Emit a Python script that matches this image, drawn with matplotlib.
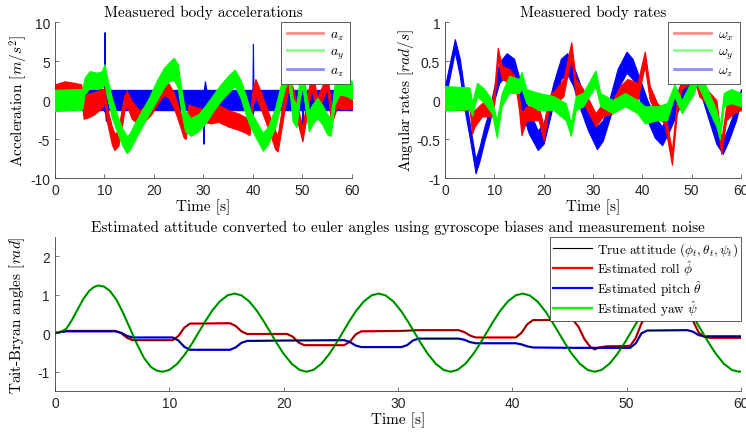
import matplotlib
matplotlib.use('Agg')
import matplotlib.pyplot as plt
from matplotlib.lines import Line2D

plt.rcParams['font.family'] = ['Liberation Sans', 'DejaVu Sans']
plt.rcParams['mathtext.fontset'] = 'cm'
plt.rcParams['axes.unicode_minus'] = False

# ---- measured body accelerations (noise bands: lower / upper edge) ----
ax_t  = [0, 2, 4, 5.3, 5.8, 6.5, 8, 9.5, 10, 10.5, 11.5, 12, 12.8, 13.5, 14, 14.5, 15.5, 17, 18, 19.5,
         21, 22, 23, 24, 25, 26, 26.4, 27, 28.5, 30, 31.5, 33, 35, 37, 38.5, 39.3, 40, 40.5, 41.5, 43,
         44.5, 45, 46, 47, 48, 49, 50, 51, 51.8, 52.5, 53, 54.2, 55, 55.7, 56, 57, 58.5, 60]
ax_lo = [0.2, 0.4, 0.3, 0.2, -2.4, -2.3, -1.8, -1.0, -0.2, -2.8, -5.7, -6.4, -5.9, -3.5, -1.4, -0.6, -2.4, -3.2, -2.8, -1.8,
         -0.2, 0.6, 0.3, -1.0, -2.8, -4.8, -5.0, -2.5, -2.4, -2.8, -3.0, -2.8, -3.4, -3.8, -4.2, -4.5, -0.6, 0.6, -1.0, -3.5,
         -6.3, -6.6, -2.8, 1.2, -0.2, -2.8, -5.3, -1.5, 1.5, -0.2, -1.8, 0.3, 1.5, -2.3, -2.7, -1.0, -1.2, -1.1]
ax_hi = [2.0, 2.4, 2.2, 2.0, 0.0, 0.8, 1.0, 1.4, 1.5, -0.9, -3.4, -4.3, -4.0, -1.0, 0.5, 1.2, -0.1, -1.3, -0.9, -0.1,
         1.6, 2.5, 2.1, 0.9, -1.0, -2.7, -3.2, -0.6, -0.9, -1.2, -0.9, -0.6, -1.3, -1.7, -2.2, -2.5, 1.6, 2.7, 1.2, -1.4,
         -4.0, -4.5, -0.5, 3.0, 1.7, -0.9, -3.4, 0.4, 3.4, 2.0, 0.3, 2.1, 3.4, 0.0, -0.9, 0.8, 0.7, 0.8]

ay_t  = [0, 5, 5.5, 6, 7, 8.5, 9.5, 10, 10.7, 11.5, 12.5, 13.5, 14.5, 15, 16, 17.5, 19, 20.5, 22, 23,
         24, 24.8, 25.5, 26.3, 27.5, 29, 30.5, 32, 33.5, 35, 36.3, 37.5, 38.5, 39.5, 41, 42, 43, 44.5, 45.5, 46.5,
         47.2, 48, 48.8, 49.5, 50, 50.6, 51.3, 52, 53, 54, 55, 55.7, 56.5, 57.5, 59, 60]
ay_lo = [-1.4, -1.3, -1.2, 0.7, 1.6, 1.4, 1.6, 2.0, -0.1, -2.3, -4.0, -5.7, -6.8, -6.5, -5.3, -3.5, -1.8, -0.1, 1.6, 2.4,
         2.6, 1.6, -1.4, -4.0, -4.6, -4.0, -2.9, -1.4, -0.1, 0.9, 1.8, 0.3, -1.8, -3.5, -5.3, -6.5, -5.7, -3.5, -1.0, 1.6,
         2.5, -2.7, -3.5, 0.3, 1.6, -1.0, -4.0, -3.1, -2.3, -3.1, -4.4, -4.6, -0.6, 0.7, 0.5, 0.1]
ay_hi = [1.3, 1.4, 1.4, 2.9, 3.7, 3.5, 3.7, 4.6, 2.4, 0.3, -1.8, -3.5, -4.6, -4.4, -3.1, -1.4, 0.3, 2.4, 4.1, 4.8,
         5.4, 4.6, 1.6, -1.4, -2.3, -1.8, -0.6, 0.7, 2.0, 3.1, 3.9, 2.6, 0.7, -1.4, -3.1, -4.2, -3.5, -1.0, 1.6, 3.7,
         5.0, 0.3, -0.6, 2.9, 4.1, 1.6, -1.4, -0.6, 0.3, -0.6, -1.8, -2.3, 2.0, 3.1, 2.9, 2.4]

az_t  = [0, 5.5, 9.9, 10.0, 10.1, 10.3, 10.6, 29.9, 30.0, 30.1, 30.3, 30.6, 39.9, 40.0, 40.1, 49.9, 50.0, 50.1, 60]
az_lo = [-0.5, -1.3, -1.3, -1.5, -1.4, -2.7, -1.3, -1.3, -5.6, -1.4, -1.3, -1.3, -1.3, -1.8, -1.3, -1.3, -5.0, -1.3, -1.3]
az_hi = [1.0, 1.3, 1.4, 8.7, 1.4, 1.3, 1.3, 1.3, 1.3, 1.4, 2.4, 1.3, 1.3, 7.2, 1.3, 1.3, 1.3, 1.3, 1.3]

# ---- measured body rates ----
wx_t  = [0, 5, 5.5, 6, 7.5, 9.5, 10, 10.7, 11.5, 13, 14.5, 15, 15.5, 16.5, 19, 20, 21, 22.5, 24, 25.6,
         26.5, 28, 29.5, 30.5, 32, 34, 35.5, 37, 39, 40.5, 41.5, 43, 44.5, 46, 47, 48, 49, 50.5, 51.5, 53,
         55, 56, 57, 58.5, 60]
wx_lo = [-0.13, -0.13, -0.43, -0.34, -0.21, -0.21, -0.04, 0.53, 0.27, 0.22, 0.09, -0.13, -0.45, -0.26, -0.26, -0.52, -0.13, -0.04, 0.05, 0.57,
         0.05, -0.04, -0.21, -0.34, -0.21, -0.17, 0.0, 0.05, 0.0, 0.44, 0.0, -0.21, -0.3, -0.83, -0.17, 0.14, 0.18, 0.3, 0.05, -0.04,
         -0.21, -0.69, -0.26, -0.17, -0.13]
wx_hi = [0.09, 0.05, -0.1, -0.13, -0.04, 0.0, 0.14, 0.67, 0.44, 0.4, 0.27, 0.05, -0.17, -0.08, -0.08, -0.34, 0.05, 0.14, 0.27, 0.74,
         0.27, 0.14, -0.04, -0.17, -0.04, 0.0, 0.18, 0.27, 0.22, 0.62, 0.18, -0.04, -0.13, -0.65, 0.0, 0.31, 0.4, 0.5, 0.22, 0.14,
         0.0, -0.52, -0.08, 0.0, 0.05]

wy_t  = [0, 5, 5.5, 6.5, 8, 9.5, 10.5, 11.5, 13, 15, 15.5, 16.5, 19, 22, 24.5, 25.5, 26.5, 28, 30.5, 31.5,
         34, 36.5, 39, 40.5, 43, 45, 46.5, 48, 50.5, 51, 52, 53.5, 55, 55.7, 56.5, 58, 60]
wy_lo = [-0.13, -0.12, -0.2, 0.05, -0.04, -0.17, -0.48, -0.08, 0.09, 0.09, 0.15, -0.04, -0.13, -0.13, -0.26, -0.46, -0.13, -0.08, 0.18, -0.08,
         -0.17, -0.08, -0.17, -0.3, -0.26, -0.26, 0.05, -0.17, 0.09, 0.22, 0.09, -0.13, -0.34, -0.5, -0.08, -0.04, -0.08]
wy_hi = [0.18, 0.16, -0.03, 0.22, 0.14, 0.0, -0.26, 0.09, 0.31, 0.27, 0.36, 0.14, 0.09, 0.05, -0.04, -0.3, 0.05, 0.09, 0.38, 0.09,
         0.0, 0.09, 0.0, -0.08, -0.08, -0.04, 0.2, 0.0, 0.31, 0.48, 0.31, 0.09, -0.13, -0.34, 0.09, 0.14, 0.09]

wz_t  = [0, 1, 2, 3, 4, 5, 6.2, 7, 8, 9, 10, 11, 12.5, 14, 15.5, 17, 18.8, 20, 21, 22,
         23.5, 24.8, 26, 27.5, 29, 30.8, 32, 33.5, 35, 36.8, 38, 39.5, 41, 42.5, 44, 45.5, 47, 48.5, 50, 51,
         52, 53.5, 55, 56.3, 57.5, 59, 60]
wz_lo = [0.0, 0.31, 0.62, 0.31, -0.13, -0.48, -0.94, -0.78, -0.52, -0.3, 0.0, 0.22, 0.32, 0.22, -0.13, -0.43, -0.64, -0.56, -0.3, -0.04,
         0.27, 0.33, 0.18, -0.13, -0.39, -0.63, -0.52, -0.21, 0.14, 0.35, 0.27, 0.0, -0.26, -0.48, -0.58, -0.39, -0.17, 0.05, 0.22, 0.16,
         0.05, -0.26, -0.56, -0.69, -0.52, -0.26, 0.0]
wz_hi = [0.18, 0.48, 0.78, 0.53, 0.09, -0.3, -0.76, -0.6, -0.34, -0.13, 0.18, 0.48, 0.6, 0.53, 0.18, -0.13, -0.39, -0.3, -0.04, 0.22,
         0.53, 0.6, 0.44, 0.18, -0.13, -0.34, -0.26, 0.05, 0.4, 0.62, 0.53, 0.27, 0.0, -0.21, -0.34, -0.13, 0.09, 0.31, 0.44, 0.35,
         0.31, 0.0, -0.3, -0.52, -0.34, -0.08, 0.14]

# ---- estimated attitude (euler angles) ----
roll_t = [0, 0.5, 1, 5.3, 5.8, 6.3, 6.8, 10.3, 10.8, 11.3, 11.8, 15.3, 15.8, 16.3, 16.8, 20.3, 20.8, 21.3, 21.8, 25.3,
          25.8, 26.3, 26.8, 30.3, 30.8, 31.3, 31.8, 35.3, 35.8, 36.3, 36.8, 40.3, 40.8, 41.3, 41.8, 45.3, 45.8, 46.3, 46.8, 47.2,
          47.6, 48.2, 50.3, 50.8, 51.3, 51.8, 52.2, 52.7, 55.3, 55.8, 56.3, 56.8, 57.3, 60]
roll   = [0, 0.04, 0.06, 0.06, 0.0, -0.12, -0.18, -0.18, -0.07, 0.14, 0.25, 0.26, 0.19, 0.05, -0.02, -0.02, -0.09, -0.24, -0.31, -0.31,
          -0.22, -0.03, 0.05, 0.06, 0.065, 0.075, 0.08, 0.08, 0.03, -0.06, -0.11, -0.11, 0.01, 0.23, 0.34, 0.35, 0.16, -0.15, -0.35, -0.42,
          -0.37, -0.34, -0.33, -0.12, 0.26, 0.47, 0.5, 0.47, 0.46, 0.32, 0.02, -0.1, -0.12, -0.12]

pitch_t = [0, 0.5, 1, 5.3, 5.8, 6.3, 6.8, 10.3, 10.8, 11.3, 11.8, 15.3, 15.8, 16.3, 16.8, 20.3, 25.3, 25.8, 26.3, 26.8,
           30.3, 30.8, 31.3, 31.8, 35.3, 35.8, 36.3, 36.8, 40.3, 40.8, 41.3, 41.8, 45.3, 50.3, 50.8, 51.3, 51.8, 55.3, 55.8, 56.3,
           56.8, 60]
pitch   = [0, 0.03, 0.05, 0.05, 0.01, -0.07, -0.11, -0.11, -0.19, -0.35, -0.43, -0.43, -0.37, -0.25, -0.2, -0.19, -0.18, -0.23, -0.32, -0.36,
           -0.36, -0.31, -0.19, -0.14, -0.14, -0.17, -0.23, -0.26, -0.26, -0.29, -0.34, -0.37, -0.38, -0.38, -0.26, 0.0, 0.07, 0.08, 0.04, -0.05,
           -0.08, -0.08]

yaw_t = [0, 0.5, 1, 1.5, 2, 2.5, 3, 3.4, 3.8, 4.3, 4.8, 5.4, 6, 6.6, 7.2, 7.8, 8.4, 8.9,
         9.4, 10.0, 10.7, 11.4, 12.0, 12.55, 13.1, 13.7, 14.4, 15.1,
         15.7, 16.3, 17.0, 17.7, 18.3, 18.85, 19.4, 20.0, 20.7, 21.4,
         22.0, 22.6, 23.3, 24.0, 24.6, 25.15, 25.7, 26.3, 27.0, 27.7,
         28.3, 28.9, 29.6, 30.3, 30.9, 31.45, 32.0, 32.6, 33.3, 34.0,
         34.6, 35.2, 35.9, 36.6, 37.2, 37.75, 38.3, 38.9, 39.6, 40.3,
         40.9, 41.5, 42.2, 42.9, 43.5, 44.05, 44.6, 45.2, 45.9, 46.6,
         47.2, 47.8, 48.5, 49.2, 49.8, 50.35, 50.9, 51.5, 52.2, 52.9,
         53.5, 54.1, 54.8, 55.5, 56.1, 56.65, 57.2, 57.8, 58.5, 59.2, 59.8, 60]
yaw = [0, 0.03, 0.12, 0.35, 0.63, 0.9, 1.1, 1.2, 1.24, 1.21, 1.1, 0.86, 0.5, 0.1, -0.3, -0.65, -0.88, -0.97,
       -1.0, -0.954, -0.793, -0.534, -0.26, 0.015, 0.29, 0.565, 0.824, 0.985,
       1.03, 0.985, 0.824, 0.565, 0.29, 0.015, -0.26, -0.534, -0.793, -0.954,
       -1.0, -0.954, -0.793, -0.534, -0.26, 0.015, 0.29, 0.565, 0.824, 0.985,
       1.03, 0.985, 0.824, 0.565, 0.29, 0.015, -0.26, -0.534, -0.793, -0.954,
       -1.0, -0.954, -0.793, -0.534, -0.26, 0.015, 0.29, 0.565, 0.824, 0.985,
       1.03, 0.985, 0.824, 0.565, 0.29, 0.015, -0.26, -0.534, -0.793, -0.954,
       -1.0, -0.954, -0.793, -0.534, -0.26, 0.015, 0.29, 0.565, 0.824, 0.985,
       1.03, 0.985, 0.824, 0.565, 0.29, 0.015, -0.26, -0.534, -0.793, -0.954, -1.0, -0.995]

RED, GREEN, BLUE = (1, 0, 0), (0, 1, 0), (0, 0, 1)
SERIF = 'cmr10'


def style(ax):
    for s in ['top', 'right']:
        ax.spines[s].set_visible(False)
    for s in ['left', 'bottom']:
        ax.spines[s].set_color('0.25')
        ax.spines[s].set_linewidth(0.6)
    ax.tick_params(direction='in', length=3, width=0.5, color='0.25',
                   labelcolor='0.15', labelsize=10)
    ax.set_xlim(0, 60)
    ax.set_xticks(range(0, 61, 10))


def band(ax, t, lo, hi, col, z):
    ax.fill_between(t, lo, hi, facecolor=col, edgecolor=col, lw=0.8, zorder=z)


def band_legend(ax, labels):
    cols = [(1, 0.55, 0.55), (0.55, 1, 0.55), (0.55, 0.55, 1)]
    hs = [Line2D([], [], color=c, lw=2) for c in cols]
    leg = ax.legend(hs, labels, loc='upper right', bbox_to_anchor=(0.995, 1.0),
                    borderaxespad=0, fancybox=False, framealpha=1,
                    edgecolor='0.25', handlelength=2.6, handletextpad=0.5,
                    labelspacing=0.2, borderpad=0.45, prop={'family': SERIF, 'size': 10})
    leg.get_frame().set_linewidth(0.6)


fig = plt.figure(figsize=(7.46, 4.35), dpi=100)

# top left: accelerations
ax1 = fig.add_axes([0.0737, 0.5885, 0.398, 0.3586])
band(ax1, az_t, az_lo, az_hi, BLUE, 1)
band(ax1, ax_t, ax_lo, ax_hi, RED, 2)
band(ax1, ay_t, ay_lo, ay_hi, GREEN, 3)
style(ax1)
ax1.set_ylim(-10, 10)
ax1.set_yticks([-10, -5, 0, 5, 10])
ax1.set_title('Measuered body accelerations', family=SERIF, size=11, pad=4)
ax1.set_xlabel('Time [s]', family=SERIF, size=11, labelpad=1)
ax1.set_ylabel(r'Acceleration $[m/s^2]$', family=SERIF, size=11, labelpad=0)
band_legend(ax1, [r'$a_z$', r'$a_y$', r'$a_z$'])

# top right: body rates
ax2 = fig.add_axes([0.5965, 0.5885, 0.3968, 0.3586])
band(ax2, wz_t, wz_lo, wz_hi, BLUE, 1)
band(ax2, wx_t, wx_lo, wx_hi, RED, 2)
band(ax2, wy_t, wy_lo, wy_hi, GREEN, 3)
style(ax2)
ax2.set_ylim(-1, 1)
ax2.set_yticks([-1, -0.5, 0, 0.5, 1])
ax2.set_yticklabels(['-1', '-0.5', '0', '0.5', '1'])
ax2.set_title('Measuered body rates', family=SERIF, size=11, pad=4)
ax2.set_xlabel('Time [s]', family=SERIF, size=11, labelpad=1)
ax2.set_ylabel(r'Angular rates $[rad/s]$', family=SERIF, size=11, labelpad=0)
band_legend(ax2, [r'$\omega_x$', r'$\omega_y$', r'$\omega_z$'])

# bottom: euler angles
ax3 = fig.add_axes([0.0737, 0.0989, 0.9196, 0.354])
ax3.plot(roll_t, roll, color=RED, lw=1.6)
ax3.plot(pitch_t, pitch, color=BLUE, lw=1.6)
ax3.plot(yaw_t, yaw, color=(0, 0.8, 0), lw=1.6)
ax3.plot(roll_t, roll, color='k', lw=0.6, alpha=0.8)
ax3.plot(pitch_t, pitch, color='k', lw=0.6, alpha=0.8)
ax3.plot(yaw_t, yaw, color='k', lw=0.6, alpha=0.6)
style(ax3)
ax3.set_ylim(-1.5, 2.5)
ax3.set_yticks([-1, 0, 1, 2])
ax3.set_title('Estimated attitude converted to euler angles using gyroscope biases and measurement noise',
              family=SERIF, size=11, pad=4)
ax3.set_xlabel('Time [s]', family=SERIF, size=11, labelpad=1)
ax3.set_ylabel(r'Tait-Bryan angles $[rad]$', family=SERIF, size=11, labelpad=8)
hs = [Line2D([], [], color='k', lw=0.8), Line2D([], [], color=RED, lw=1.6),
      Line2D([], [], color=BLUE, lw=1.6), Line2D([], [], color=GREEN, lw=1.6)]
labs = [r'True attitude $(\phi_t,\theta_t,\psi_t)$', r'Estimated roll $\hat{\phi}$',
        r'Estimated pitch $\hat{\theta}$', r'Estimated yaw $\hat{\psi}$']
leg = ax3.legend(hs, labs, loc='upper right', bbox_to_anchor=(1.0, 1.0), borderaxespad=0,
                 fancybox=False, framealpha=1, edgecolor='0.25', handlelength=2.9,
                 handletextpad=0.4, labelspacing=0.02, borderpad=0.25,
                 prop={'family': SERIF, 'size': 9.5})
leg.get_frame().set_linewidth(0.6)

fig.savefig('out.png', dpi=100)
